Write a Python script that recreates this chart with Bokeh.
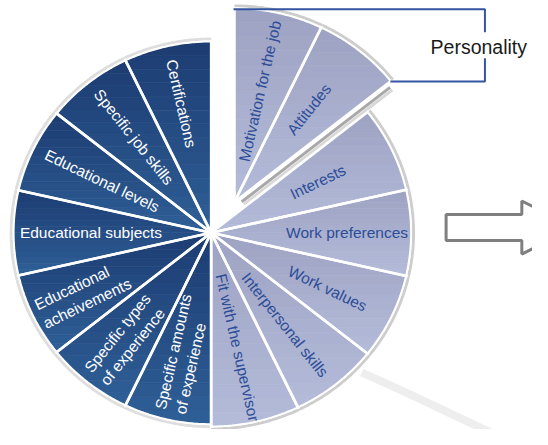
import math
from bokeh.plotting import figure
from bokeh.models import Range1d, ColumnDataSource
from bokeh.embed import file_html
from bokeh.resources import INLINE
from bokeh.core.properties import value

# ---------------- data ----------------
light_labels = ["Motivation for the job", "Attitudes", "Interests", "Work preferences",
                "Work values", "Interpersonal skills", "Fit with the supervisor"]
light_shares = [1, 1, 1, 1, 1, 1, 1]
dark_labels = ["Specific amounts\nof experience", "Specific types\nof experience",
               "Educational\nacheivements", "Educational subjects", "Educational levels",
               "Specific job skills", "Certifications"]
dark_shares = [1, 1, 1, 1, 1, 1, 1]
personality_items = ["Motivation for the job", "Attitudes"]
callout_text = "Personality"

# ---------------- layout / style ----------------
W, H = 532, 429
PAGE_W, PAGE_H = 548, 445
CX, CY = 217.0, PAGE_H - 241.0
RX, RY = 203.0, 198.0
LIGHT_SCALE = 1.012
EXPLODE = (24.0, 32.0)
light_label_r = [118, 123, 122, 140, 133, 122, 122]
dark_label_r = [190, 191, 196, 197, 189, 188, 184]
FONT = value("Liberation Sans")
DARK_TOP, DARK_BOT = "#1c3c72", "#2f5f97"
LIGHT_TOP, LIGHT_BOT = "#9ea2c2", "#b4bcda"


def hx(c):
    return tuple(int(c[i:i + 2], 16) for i in (1, 3, 5))


def lerp(c0, c1, t):
    a, b = hx(c0), hx(c1)
    return "#%02x%02x%02x" % tuple(int(round(a[k] + (b[k] - a[k]) * t)) for k in range(3))


def wedge(cx, cy, rx, ry, a0, a1, n=48):
    pts = [(cx, cy)]
    for k in range(n + 1):
        a = a0 + (a1 - a0) * k / n
        pts.append((cx + rx * math.cos(a), cy + ry * math.sin(a)))
    return pts


def clip_half(pts, keep, inter):
    out = []
    n = len(pts)
    for i in range(n):
        p, q = pts[i], pts[(i + 1) % n]
        kp, kq = keep(p), keep(q)
        if kp:
            out.append(p)
            if not kq:
                out.append(inter(p, q))
        elif kq:
            out.append(inter(p, q))
    return out


def ix(p, q, yc):
    t = (yc - p[1]) / (q[1] - p[1])
    return (p[0] + t * (q[0] - p[0]), yc)


def clip_band(poly, y0, y1):
    pts = clip_half(poly, lambda p: p[1] >= y0, lambda p, q: ix(p, q, y0))
    if len(pts) < 3:
        return []
    pts = clip_half(pts, lambda p: p[1] <= y1, lambda p, q: ix(p, q, y1))
    return pts


p = figure(width=W, height=H, x_range=Range1d(0, PAGE_W), y_range=Range1d(0, PAGE_H),
           output_backend="svg", toolbar_location=None, min_border=0,
           x_axis_type=None, y_axis_type=None, outline_line_color=None,
           background_fill_color="white", border_fill_color="white")
p.grid.visible = False

# decorative swoosh behind the pie
p.bezier(x0=[372], y0=[PAGE_H - 386], x1=[505], y1=[PAGE_H - 448],
         cx0=[414], cy0=[PAGE_H - 404], cx1=[462], cy1=[PAGE_H - 428],
         line_color="#eeeeee", line_width=8)

# slice geometry from shares
all_labels = light_labels + dark_labels
all_shares = light_shares + dark_shares
total = float(sum(all_shares))
slices = []
a = math.pi / 2
for i, (lab, sh) in enumerate(zip(all_labels, all_shares)):
    span = 2 * math.pi * sh / total
    light = i < len(light_labels)
    if lab in personality_items:
        cx, cy = CX + EXPLODE[0], CY + EXPLODE[1]
    else:
        cx, cy = CX, CY
    sc = LIGHT_SCALE if light else 1.0
    slices.append(dict(label=lab, a0=a, a1=a - span, cx=cx, cy=cy,
                       rx=RX * sc, ry=RY * sc, light=light, idx=i))
    a -= span

# outer shadows
for s in slices:
    arc = wedge(s["cx"], s["cy"], s["rx"] + 3, s["ry"] + 3, s["a0"], s["a1"])[1:]
    p.line([q[0] for q in arc], [q[1] for q in arc],
           line_color="#cdcdcd" if s["light"] else "#dedede", line_width=3)

# slice bodies with vertical gradient bands
bxs, bys, bcol = [], [], []
NB = 14
for s in slices:
    poly = wedge(s["cx"], s["cy"], s["rx"], s["ry"], s["a0"], s["a1"])
    ymin = min(q[1] for q in poly)
    ymax = max(q[1] for q in poly)
    top, bot = (LIGHT_TOP, LIGHT_BOT) if s["light"] else (DARK_TOP, DARK_BOT)
    for b in range(NB):
        y0 = ymin + (ymax - ymin) * b / NB
        y1 = ymin + (ymax - ymin) * (b + 1) / NB
        band = clip_band(poly, y0, y1)
        if len(band) < 3:
            continue
        t = (b + 0.5) / NB
        bxs.append([q[0] for q in band])
        bys.append([q[1] for q in band])
        bcol.append(lerp(bot, top, t))
p.patches(bxs, bys, fill_color=bcol, line_color=bcol, line_width=0.7)

# shadow under the exploded group
att = slices[1]
ang = att["a1"]
for off, col, lw in ((4.5, "#a8a8a8", 3), (8, "#d8d8d8", 3)):
    ox, oy = off * math.cos(ang - math.pi / 2), off * math.sin(ang - math.pi / 2)
    x0 = att["cx"] + ox + 6 * math.cos(ang)
    y0 = att["cy"] + oy + 6 * math.sin(ang)
    x1 = att["cx"] + ox + (att["rx"] - 4) * math.cos(ang)
    y1 = att["cy"] + oy + (att["ry"] - 4) * math.sin(ang)
    p.line([x0, x1], [y0, y1], line_color=col, line_width=lw)

# white rims and separators
for s in slices:
    arc = wedge(s["cx"], s["cy"], s["rx"] + 0.5, s["ry"] + 0.5, s["a0"], s["a1"])[1:]
    p.line([q[0] for q in arc], [q[1] for q in arc], line_color="white", line_width=2)
sx0, sy0, sx1, sy1 = [], [], [], []
for s in slices:
    for aa in (s["a0"], s["a1"]):
        sx0.append(s["cx"]); sy0.append(s["cy"])
        sx1.append(s["cx"] + (s["rx"] + 2) * math.cos(aa))
        sy1.append(s["cy"] + (s["ry"] + 2) * math.sin(aa))
p.segment(sx0, sy0, sx1, sy1, line_color="white", line_width=2.6)
p.scatter([CX], [CY], size=8, color="white")

# labels
lx, ly, lt, la = [], [], [], []
dx, dy, dt, da = [], [], [], []
for s in slices:
    mid = (s["a0"] + s["a1"]) / 2
    if s["light"]:
        r = light_label_r[s["idx"]]
        lx.append(s["cx"] + r * math.cos(mid)); ly.append(s["cy"] + r * math.sin(mid))
        lt.append(s["label"]); la.append(mid)
    else:
        r = dark_label_r[s["idx"] - len(light_labels)]
        dx.append(s["cx"] + r * math.cos(mid)); dy.append(s["cy"] + r * math.sin(mid))
        dt.append(s["label"]); da.append(mid - math.pi)
p.text(x="x", y="y", text="t", angle="a",
       source=ColumnDataSource(dict(x=lx, y=ly, t=lt, a=la)),
       text_align="center", text_baseline="middle", text_font=FONT,
       text_font_size="15.5px", text_color="#2c4d98")
p.text(x="x", y="y", text="t", angle="a",
       source=ColumnDataSource(dict(x=dx, y=dy, t=dt, a=da)),
       text_align="left", text_baseline="middle", text_font=FONT,
       text_font_size="15.5px", text_color="white", text_line_height=1.2)

# Personality bracket
mot = slices[0]
top_y = PAGE_H - 9
br_x = 499
end_x = att["cx"] + att["rx"] * math.cos(att["a1"])
end_y = att["cy"] + att["ry"] * math.sin(att["a1"])
p.line([mot["cx"] - 1, br_x, br_x], [top_y, top_y, PAGE_H - 33], line_color="#3354a0", line_width=2)
p.line([br_x, br_x, end_x], [PAGE_H - 60, end_y, end_y], line_color="#3354a0", line_width=2)
p.text(x=[443], y=[PAGE_H - 48], text=[callout_text], text_align="left", text_baseline="middle",
       text_font=FONT, text_font_size="19.5px", text_color="#1a1a1a")

# block arrow
ax = [459, 537, 537, 592, 537, 537, 459]
ay = [PAGE_H - v for v in (222, 222, 208, 235.5, 263, 249, 249)]
p.patch(ax, ay, fill_color="white", line_color="#7f7f7f", line_width=3)

open("out.html", "w").write(file_html(p, INLINE))
